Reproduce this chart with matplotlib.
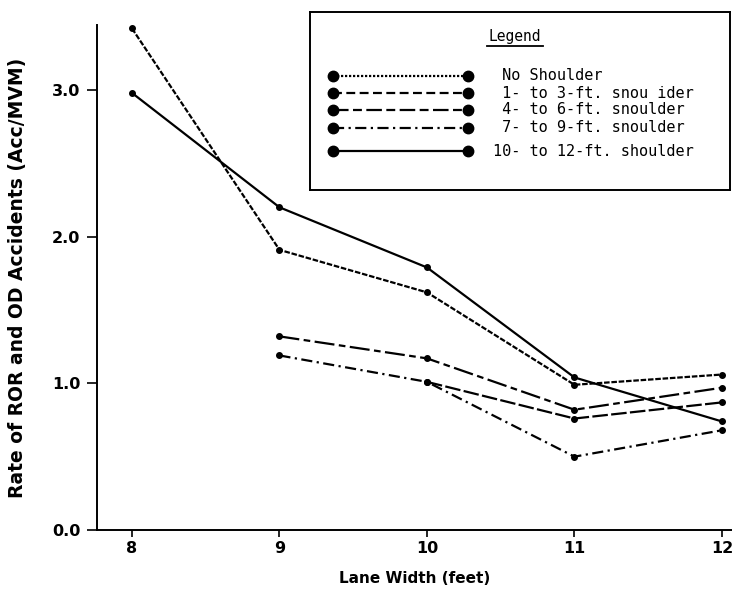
import matplotlib.pyplot as plt
import numpy as np

# lane width (ft)
lane_width = [8, 9, 10, 11, 12]

# accident rates, nan = no point
no_shoulder = [3.42, 1.91, 1.62, 0.99, 1.06]
sh_1_3 = [np.nan, np.nan, 1.01, 0.76, 0.87]
sh_4_6 = [np.nan, 1.32, 1.17, 0.82, 0.97]
sh_7_9 = [np.nan, 1.19, 1.01, 0.50, 0.68]
sh_10_12 = [2.98, 2.20, 1.79, 1.04, 0.74]

labels = [" No Shoulder", " 1- to 3-ft. snou ider", " 4- to 6-ft. snoulder",
          " 7- to 9-ft. snoulder", "10- to 12-ft. shoulder"]
series = [no_shoulder, sh_1_3, sh_4_6, sh_7_9, sh_10_12]
styles = [(0, (2.5, 0.8)), (0, (7, 1.5)), (0, (9, 2, 3, 2)), (0, (5, 2, 1, 2)), '-']
legend_styles = [(0, (1, 0.8)), (0, (4, 2)), (0, (7, 2, 4, 2)), (0, (5, 2, 1, 2)), '-']

yticks = [0.0, 1.0, 2.0, 3.0]
xticks = [8, 9, 10, 11, 12]

W, H = 732, 595
fig = plt.figure(figsize=(W / 100, H / 100), dpi=100)
ax = fig.add_axes([97 / W, (H - 530) / H, (W - 97) / W, 505 / H])

for vals, ls in zip(series, styles):
    ax.plot(lane_width, vals, color='black', linestyle=ls, linewidth=1.6,
            marker='o', markersize=4, clip_on=False)

ax.set_xlim(7.763, 12.068)
ax.set_ylim(0, 3.443)
ax.set_xticks(xticks)
ax.set_xticklabels([str(x) for x in xticks], fontweight='bold', fontsize=11.5)
ax.set_yticks(yticks)
ax.set_yticklabels([f"{y:.1f}" for y in yticks], fontweight='bold', fontsize=11.5)
ax.tick_params(axis='y', length=7, width=1.2, pad=5)
ax.tick_params(axis='x', length=5, width=1.2, pad=3)
ax.spines['top'].set_visible(False)
ax.spines['right'].set_visible(False)
ax.spines['left'].set_linewidth(1.4)
ax.spines['bottom'].set_linewidth(1.4)
ax.set_xlabel("Lane Width (feet)", fontweight='bold', fontsize=11, labelpad=11)
ax.set_ylabel("Rate of ROR and OD Accidents (Acc/MVM)", fontweight='bold', fontsize=13.5)
ax.yaxis.set_label_coords(-70 / (W - 97), 0.5)

# hand drawn legend box, coords in pixels inside the box
lg = fig.add_axes([310 / W, (H - 190) / H, 420 / W, 178 / H])
lg.set_xlim(0, 420)
lg.set_ylim(178, 0)
lg.set_xticks([])
lg.set_yticks([])
for s in lg.spines.values():
    s.set_linewidth(1.4)
lg.text(205, 24, "Legend", family='DejaVu Sans Mono', fontsize=10.5, ha='center', va='center')
lg.plot([177, 233], [34, 34], color='black', linewidth=1.3)
rows = [64, 81, 98, 116, 139]
for lab, ls, ry in zip(labels, legend_styles, rows):
    lg.plot([23, 158], [ry, ry], color='black', linestyle=ls, linewidth=1.6,
            marker='o', markersize=7.5)
    lg.text(183, ry, lab, family='DejaVu Sans Mono', fontsize=11, va='center')

fig.savefig("out.png", dpi=100)
